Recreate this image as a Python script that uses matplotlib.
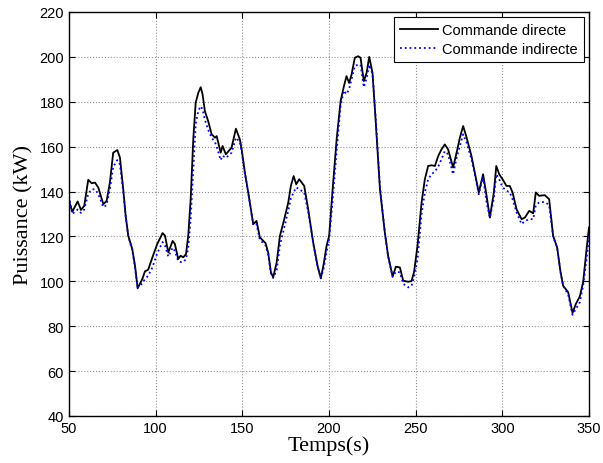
import numpy as np
import matplotlib.pyplot as plt

# temps (s)
t = [50.0, 51.9, 55.0, 56.9, 58.8, 61.1, 63.1, 65.0, 66.9, 69.8,
     71.7, 73.6, 75.5, 77.9, 79.4, 81.3, 82.7, 84.2, 86.5, 88.1,
     89.6, 92.3, 93.8, 95.7, 98.0, 100.9, 104.0, 105.4, 107.3, 109.8,
     111.1, 113.0, 114.4, 115.9, 117.5, 118.8, 120.2, 121.7, 123.1, 124.6,
     126.0, 127.1, 128.4, 130.3, 132.3, 134.2, 135.2, 137.5, 138.6, 140.5,
     143.8, 146.3, 148.6, 149.6, 151.5, 153.4, 156.3, 158.2, 160.1, 163.4,
     164.9, 166.5, 167.8, 169.8, 171.7, 174.2, 176.5, 178.0, 179.6, 181.1,
     182.8, 185.7, 188.0, 190.9, 193.4, 195.3, 197.0, 198.6, 200.1, 202.1,
     204.4, 206.7, 208.6, 210.1, 211.6, 213.0, 214.9, 216.8, 218.2, 220.1,
     221.7, 223.2, 225.1, 227.0, 229.4, 232.2, 234.1, 236.7, 238.6, 240.9,
     242.8, 245.7, 247.6, 249.1, 251.1, 253.4, 255.3, 257.2, 259.2, 261.1,
     263.0, 264.9, 266.8, 268.7, 271.6, 273.6, 275.5, 277.4, 279.4, 282.2,
     284.1, 286.4, 288.9, 290.9, 292.8, 295.1, 296.5, 298.2, 300.1, 302.4,
     304.3, 305.9, 308.2, 311.1, 313.0, 315.5, 317.8, 319.3, 321.2, 324.5,
     327.0, 329.3, 331.6, 333.6, 335.1, 338.0, 340.5, 342.4, 344.7, 346.6,
     348.6, 350.0]

# commande directe (kW)
p_dir = [136, 131, 135.6, 131.8, 133.6, 145.2, 143.7, 144, 141.8, 134.4,
         135.8, 144, 157.3, 158.5, 155.1, 141, 129.2, 120.3, 114.4, 106.9,
         96.9, 101, 104.4, 105.2, 110.4, 116.6, 121.5, 120.3, 112.9, 118,
         116.6, 110, 111.4, 110.7, 112.1, 120.3, 136.6, 163.2, 179.6, 184,
         186.5, 183.2, 175.8, 171.4, 165.5, 164, 164.7, 157.3, 160.3, 156.6,
         159.6, 168, 163.2, 158.8, 148.4, 139.6, 125.5, 126.9, 119.6, 117,
         112.9, 104, 101.8, 108.4, 120.3, 127.7, 135.1, 142.5, 146.9, 143.2,
         145.5, 142.5, 132.1, 117.2, 106.9, 101.3, 108, 115.8, 120.3, 141,
         163.2, 180.3, 186.9, 191.4, 188.4, 192.1, 199.6, 200.3, 199.6, 189.2,
         192.9, 200, 192.9, 170.7, 141, 121.8, 111.4, 102.2, 106.5, 106.2,
         100.3, 99.8, 100.1, 104.3, 116.1, 135.1, 145.5, 151.4, 151.7, 151.4,
         155.8, 158.8, 161, 158.8, 150.7, 157.3, 164, 169.2, 164, 155.8,
         148.4, 139.6, 147.7, 138.1, 128.4, 139.6, 151.4, 147.7, 145.5, 142.5,
         142.5, 139.6, 132.1, 127.7, 128.4, 131.4, 130.3, 139.6, 138.1, 138.4,
         136.6, 120.3, 115.1, 104, 98, 95.1, 85.9, 89.9, 93.3, 99.6,
         114.4, 124]

# commande indirecte (kW)
p_ind = [138, 130, 132, 130.5, 132, 139, 141, 141, 139, 133,
         134, 141, 151, 154, 152, 140, 129, 120, 114, 106,
         97.5, 99, 101, 102.5, 106, 112.5, 117.5, 116, 111, 115,
         113.5, 109, 108.6, 108.6, 109.8, 115, 128, 150, 170, 176,
         178, 176.5, 172, 167.5, 164, 162, 160, 154, 156, 155,
         157.3, 164, 162, 158, 148, 139.6, 125, 125.5, 118.5, 116,
         112, 103.5, 101.5, 105, 116, 124, 131.5, 137, 139.6, 141.9,
         141, 139.6, 131, 117, 106.5, 101.5, 106, 113, 119, 136,
         158, 178.4, 185, 183.4, 185.6, 190, 196, 196.5, 196.5, 186.5,
         190.5, 196.5, 192.4, 172, 142, 122, 111, 102, 104.3, 104,
         98.9, 97.3, 98, 102, 110, 130, 139.6, 145.5, 147.7, 149,
         151, 154.4, 158, 156.6, 147.7, 155, 160.3, 165.5, 161.8, 154.4,
         147.7, 138.8, 146.5, 135.1, 128.4, 137, 147.7, 145.5, 141.9, 140.4,
         139.6, 136.6, 130.8, 125.5, 126.9, 127.7, 127.7, 133.9, 135.1, 135.4,
         133.9, 120, 115, 104, 98, 94, 85.1, 87.7, 90.7, 98,
         110, 120.3]

xticks = np.arange(50, 351, 50)
yticks = np.arange(40, 221, 20)

fig = plt.figure(figsize=(6.03, 4.64), dpi=100)
ax = fig.add_axes([0.1144, 0.1013, 0.8624, 0.8707])

ax.plot(t, p_dir, color='black', lw=1.3, label='Commande directe')
ax.plot(t, p_ind, color='blue', lw=1.3, ls=':', label='Commande indirecte')

ax.set_xlim(50, 350)
ax.set_ylim(40, 220)
ax.set_xticks(xticks)
ax.set_yticks(yticks)
ax.grid(True, ls=':', color='#909090', lw=0.8)
ax.tick_params(direction='in', top=True, right=True, length=4,
               labelsize=10.5)
for lab in ax.get_xticklabels() + ax.get_yticklabels():
    lab.set_family('Liberation Sans')
for s in ax.spines.values():
    s.set_linewidth(1.0)

ax.set_xlabel('Temps(s)', family='Liberation Serif', fontsize=16, labelpad=0)
ax.set_ylabel('Puissance (kW)', family='Liberation Serif', fontsize=16, labelpad=4)

leg = ax.legend(loc='upper right', prop={'family': 'Liberation Sans', 'size': 10.5},
                fancybox=False, framealpha=1, edgecolor='black',
                borderaxespad=0.35, handlelength=2.6, borderpad=0.4,
                labelspacing=0.35, handletextpad=0.3)
leg.get_frame().set_linewidth(0.8)

fig.savefig('out.png', dpi=100)
